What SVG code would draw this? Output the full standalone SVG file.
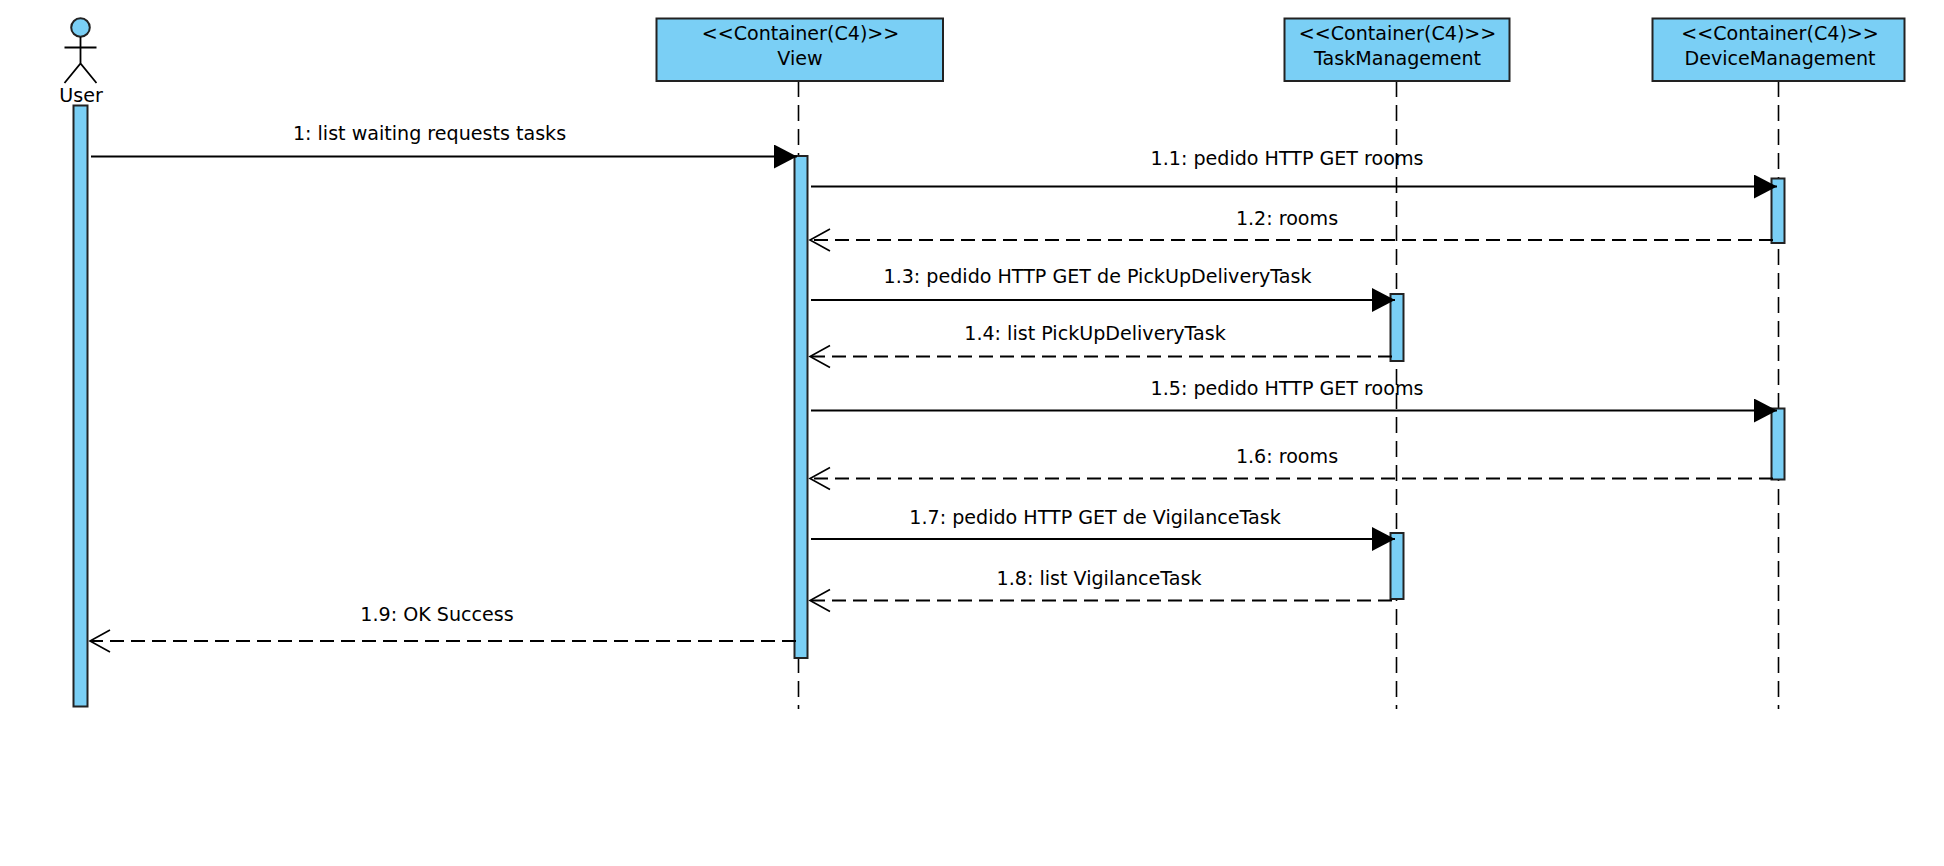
<svg xmlns="http://www.w3.org/2000/svg" width="1944" height="866" viewBox="0 0 1944 866">
<defs>
<marker id="solid" markerUnits="userSpaceOnUse" markerWidth="24" markerHeight="26" refX="23" refY="12" orient="auto"><path d="M0 0L23 12L0 24Z" fill="#000"/></marker>
<marker id="open" markerUnits="userSpaceOnUse" markerWidth="24" markerHeight="26" refX="21" refY="12" orient="auto"><path d="M1 1L21 12L1 23" fill="none" stroke="#000" stroke-width="1.6"/></marker>
</defs>
<style>
text{font-family:"DejaVu Sans","Liberation Sans",sans-serif;font-size:19.1px;fill:#000;text-anchor:middle}
.box{fill:#7acff5;stroke:#222;stroke-width:2}
.life{stroke:#000;stroke-width:1.6;stroke-dasharray:16 8;fill:none}
.msg{stroke:#000;stroke-width:1.8;fill:none}
.ret{stroke-dasharray:14 7}
</style>
<rect width="1944" height="866" fill="#fff"/>
<g id="lifelines">
<line class="life" x1="798.5" y1="81" x2="798.5" y2="709"/>
<line class="life" x1="1396.5" y1="81" x2="1396.5" y2="709"/>
<line class="life" x1="1778.5" y1="81" x2="1778.5" y2="709"/>
</g>
<g id="user">
<circle class="box" cx="80.5" cy="27.5" r="9.3"/>
<path d="M80.5 37V63.5M64.5 47.5H96.5M64.5 83L80.5 63.5L96.5 83" fill="none" stroke="#000" stroke-width="1.8"/>
<text x="81" y="102">User</text>
<rect class="box" x="73.5" y="105.5" width="14" height="601"/>
</g>
<g id="view">
<rect class="box" x="656.5" y="18.5" width="286.5" height="62.5"/>
<text x="800.500" y="39.500">&lt;&lt;Container(C4)&gt;&gt;</text>
<text x="800" y="65">View</text>
<rect class="box" x="794.500" y="156" width="13" height="502"/>
</g>
<g id="taskmanagement">
<rect class="box" x="1284.500" y="18.5" width="225" height="62.5"/>
<text x="1397.500" y="39.500">&lt;&lt;Container(C4)&gt;&gt;</text>
<text x="1397.500" y="65">TaskManagement</text>
<rect class="box" x="1390.500" y="294" width="13" height="67"/>
<rect class="box" x="1390.500" y="533" width="13" height="66"/>
</g>
<g id="devicemanagement">
<rect class="box" x="1652.500" y="18.5" width="252" height="62.5"/>
<text x="1780" y="39.500">&lt;&lt;Container(C4)&gt;&gt;</text>
<text x="1780" y="65">DeviceManagement</text>
<rect class="box" x="1771.500" y="178.500" width="13" height="64.5"/>
<rect class="box" x="1771.500" y="408.500" width="13" height="71"/>
</g>
<g id="connectors">
<line class="msg" x1="91" y1="156.500" x2="797" y2="156.500" marker-end="url(#solid)"/>
<line class="msg" x1="811" y1="186.500" x2="1777" y2="186.500" marker-end="url(#solid)"/>
<line class="msg ret" x1="1773" y1="240" x2="810" y2="240" marker-end="url(#open)"/>
<line class="msg" x1="811" y1="300" x2="1395" y2="300" marker-end="url(#solid)"/>
<line class="msg ret" x1="1392" y1="356.500" x2="810" y2="356.500" marker-end="url(#open)"/>
<line class="msg" x1="811" y1="410.500" x2="1777" y2="410.500" marker-end="url(#solid)"/>
<line class="msg ret" x1="1773" y1="478.500" x2="810" y2="478.500" marker-end="url(#open)"/>
<line class="msg" x1="811" y1="539" x2="1395" y2="539" marker-end="url(#solid)"/>
<line class="msg ret" x1="1392" y1="600.500" x2="810" y2="600.500" marker-end="url(#open)"/>
<line class="msg ret" x1="796" y1="641" x2="90" y2="641" marker-end="url(#open)"/>
</g>
<g id="labels">
<text x="429.500" y="140">1: list waiting requests tasks</text>
<text x="1287" y="165">1.1: pedido HTTP GET rooms</text>
<text x="1287" y="225">1.2: rooms</text>
<text x="1097.500" y="283">1.3: pedido HTTP GET de PickUpDeliveryTask</text>
<text x="1095" y="340">1.4: list PickUpDeliveryTask</text>
<text x="1287" y="395">1.5: pedido HTTP GET rooms</text>
<text x="1287" y="463">1.6: rooms</text>
<text x="1095" y="524">1.7: pedido HTTP GET de VigilanceTask</text>
<text x="1099" y="585">1.8: list VigilanceTask</text>
<text x="437" y="621">1.9: OK Success</text>
</g>
</svg>
